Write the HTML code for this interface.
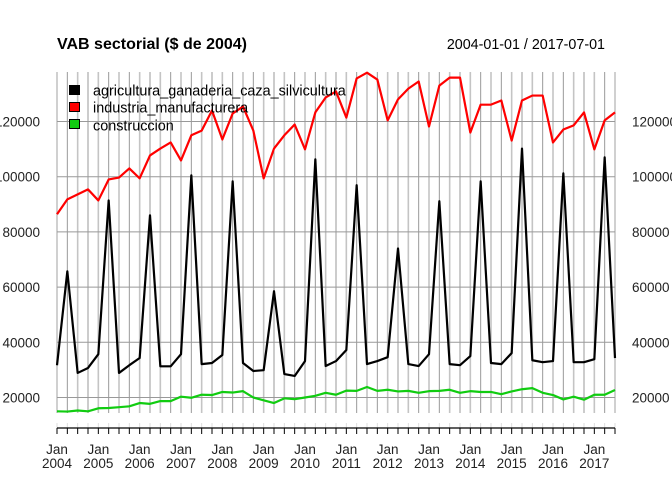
<!DOCTYPE html>
<html><head><meta charset="utf-8"><style>
html,body{margin:0;padding:0;background:#fff;}
svg{display:block;font-family:"Liberation Sans",Arial,sans-serif;}
</style></head><body>
<svg id="chart" width="672" height="480" viewBox="0 0 672 480">
<text x="57" y="49" font-size="16" font-weight="bold" fill="#000">VAB sectorial ($ de 2004)</text>
<text x="605" y="49" font-size="14.3" text-anchor="end" fill="#000">2004-01-01 / 2017-07-01</text>
<g id="grid"></g>
<g id="series"></g>
<g id="axes"></g>
<g>
<rect x="69.5" y="85.5" width="10" height="9" fill="#000" stroke="#000"/>
<text x="93" y="95.5" font-size="14.4">agricultura_ganaderia_caza_silvicultura</text>
<rect x="69.5" y="102.5" width="10" height="9" fill="#f00" stroke="#000"/>
<text x="93" y="112.5" font-size="14.4">industria_manufacturera</text>
<rect x="69.5" y="119.5" width="10" height="9" fill="#1c1" stroke="#000"/>
<text x="93" y="130.5" font-size="14.4">construccion</text>
</g>
</svg>
<script>
const years = [2004,2005,2006,2007,2008,2009,2010,2011,2012,2013,2014,2015,2016,2017];
const yTicks = [20000,40000,60000,80000,100000,120000];
const agricultura = [31700,65700,28900,30700, 35700,91400,28900,31700, 34300,86000,31300,31300, 35700,100500,32100,32500, 35400,98300,32500,29600, 29900,58500,28500,27800, 33200,106300,31400,33200, 37200,96900,32100,33200, 34600,74000,32100,31400, 35700,91100,32100,31700, 35000,98300,32500,32100, 36100,110200,33500,32800, 33200,101200,32800,32800, 33900,107000,34300];
const industria = [86400,91800,93600,95400, 91400,99000,99700,103000, 99400,107700,110200,112400, 105900,115000,116700,124000, 113500,122900,125400,116700, 99400,110200,115000,118900, 109900,123300,128700,130900, 121400,135600,137700,135200, 120400,128000,131900,134500, 118200,133000,135900,135900, 116000,126100,126100,127600, 113100,127600,129400,129400, 112400,117100,118600,123300, 109900,120400,123300];
const construccion = [15000,14900,15300,15000, 16100,16200,16500,16800, 18000,17700,18700,18700, 20300,19900,21000,20900, 22000,21800,22300,20000, 19000,18000,19700,19400, 20000,20600,21700,21000, 22500,22400,23800,22400, 22800,22200,22400,21700, 22300,22400,22800,21700, 22300,22000,22000,21200, 22200,23000,23400,21700, 20900,19300,20300,19200, 21000,21000,22700];

const NS="http://www.w3.org/2000/svg";
const X0=57, X1=615, PT=72, PB=413;
const n = agricultura.length;
function xs(i){return X0+i*(X1-X0)/(n-1);}
function ys(v){return 121.5+(120000-v)/20000*55.2;}
function mk(tag,attrs,parent){const e=document.createElementNS(NS,tag);for(const k in attrs)e.setAttribute(k,attrs[k]);parent.appendChild(e);return e;}
const grid=document.getElementById('grid'), ser=document.getElementById('series'), ax=document.getElementById('axes');
for(let i=0;i<n;i++){
  const l=mk('line',{x1:xs(i),x2:xs(i),y1:PT,y2:PB,stroke:i%2?'#999':'#c4c4c4','stroke-width':i%2?1:1.6},grid);
  
  
  const g=mk('line',{x1:xs(i),x2:xs(i),y1:423,y2:428,stroke:'#ddd','stroke-width':1},grid);
  
  
  const t=mk('line',{x1:xs(i),x2:xs(i),y1:428,y2:434,stroke:'#000','stroke-width':1},ax);
  
  
}
mk('line',{x1:X0,x2:X1,y1:428,y2:428,stroke:'#000','stroke-width':1.2},ax);
yTicks.forEach(v=>{
  const l=mk('line',{x1:X0,x2:X1,y1:ys(v),y2:ys(v),stroke:'#999','stroke-width':1},grid);
  
  
  const a=mk('text',{x:40,y:ys(v)+5,'font-size':13.5,'text-anchor':'end',fill:'#222'},ax);
  a.textContent=v;
  
  
  const b=mk('text',{x:632,y:ys(v)+5,'font-size':13.5,fill:'#222'},ax);
  b.textContent=v;
  
  
});
years.forEach((yr,k)=>{
  const x=xs(k*4);
  const a=mk('text',{x:x,y:454,'font-size':13.5,'text-anchor':'middle',fill:'#222'},ax);
  a.textContent='Jan';
  
  
  const b=mk('text',{x:x,y:468,'font-size':13.5,'text-anchor':'middle',fill:'#222'},ax);
  b.textContent=yr;
  
  
});
function line(data,color,name){
  const p=mk('polyline',{points:data.map((v,i)=>xs(i)+','+ys(v)).join(' '),fill:'none',stroke:color,'stroke-width':2.2,'stroke-linejoin':'round'},ser);
  
  
}
line(agricultura,'#000','line-agricultura');
line(industria,'#f00','line-industria');
line(construccion,'#1c1','line-construccion');
</script>
</body></html>
